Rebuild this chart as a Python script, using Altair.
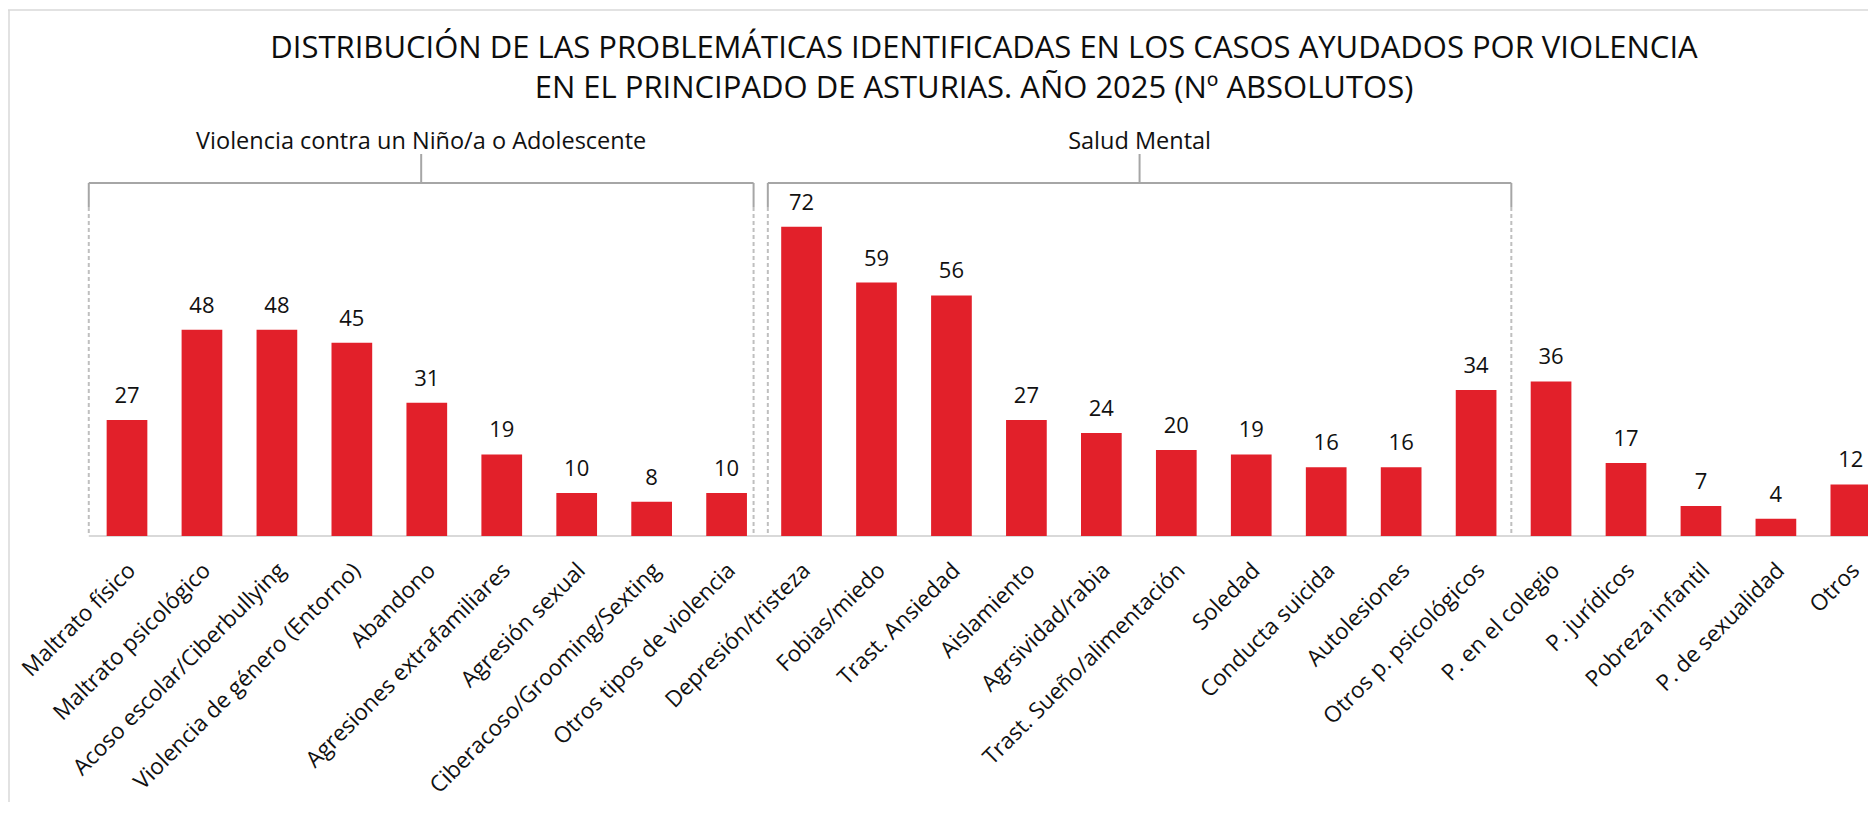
import altair as alt
import pandas as pd

# ---------------- data ----------------
categories = [
    "Maltrato físico", "Maltrato psicológico", "Acoso escolar/Ciberbullying",
    "Violencia de género (Entorno)", "Abandono", "Agresiones extrafamiliares",
    "Agresión sexual", "Ciberacoso/Grooming/Sexting", "Otros tipos de violencia",
    "Depresión/tristeza", "Fobias/miedo", "Trast. Ansiedad", "Aislamiento",
    "Agrsividad/rabia", "Trast. Sueño/alimentación", "Soledad", "Conducta suicida",
    "Autolesiones", "Otros p. psicológicos", "P. en el colegio", "P. jurídicos",
    "Pobreza infantil", "P. de sexualidad", "Otros",
]
values = [27, 48, 48, 45, 31, 19, 10, 8, 10, 72, 59, 56, 27, 24, 20, 19, 16, 16, 34,
          36, 17, 7, 4, 12]

group_names = ["Violencia contra un Niño/a o Adolescente", "Salud Mental"]
group_first = [0, 9]
group_last = [8, 18]

title_lines = [
    "DISTRIBUCIÓN DE LAS PROBLEMÁTICAS IDENTIFICADAS EN LOS CASOS AYUDADOS POR VIOLENCIA",
    "EN EL PRINCIPADO DE ASTURIAS. AÑO 2025 (Nº ABSOLUTOS)",
]

# ---------------- layout (pixel geometry of the page) ----------------
W, H = 1860, 794
PX0, PITCH = 127.0, 74.95     # page x of first bar centre, bar pitch
BASE, PXU = 536.0, 4.295      # page y of baseline, pixels per unit


def xi(px):
    return (px - PX0) / PITCH


def yv(py):
    return (BASE - py) / PXU


xs = alt.Scale(domain=[xi(8), xi(8 + W)], nice=False, zero=False)
ys = alt.Scale(domain=[yv(8 + H), yv(8)], nice=False, zero=False)

HALF_BAR = 20.35 / PITCH
RED = "#E2202A"
LABEL_FONT = "Open Sans"
NUM_FONT = "Open Sans"

df = pd.DataFrame({"idx": list(range(len(categories))), "cat": categories, "val": values})

base = alt.Chart(df)

bars = base.transform_calculate(
    x0=f"datum.idx - {HALF_BAR}", x1=f"datum.idx + {HALF_BAR}", zero="0"
).mark_bar(color=RED, clip=True).encode(
    x=alt.X("x0:Q", scale=xs, axis=None),
    x2="x1:Q",
    y=alt.Y("val:Q", scale=ys, axis=None),
    y2="zero:Q",
)

value_labels = base.mark_text(
    font=NUM_FONT, fontSize=22, color="#111111", baseline="alphabetic", dy=-17
).encode(
    x=alt.X("idx:Q", scale=xs, axis=None),
    y=alt.Y("val:Q", scale=ys, axis=None),
    text="val:Q",
)

cat_labels = base.transform_calculate(
    lx=f"datum.idx + {5 / PITCH}", ly=f"{yv(567)}"
).mark_text(
    font=LABEL_FONT, fontSize=22.5, color="#111111", angle=315, align="right",
    baseline="middle",
).encode(
    x=alt.X("lx:Q", scale=xs, axis=None),
    y=alt.Y("ly:Q", scale=ys, axis=None),
    text="cat:N",
)

# ---------------- brackets ----------------
left_off = [0.51, 0.45]
right_off = [0.36, 0.47]
Y_TOP, Y_SOLID, Y_TICK, Y_GLABEL = yv(183), yv(207), yv(154), yv(142)

solid_rows, dash_rows, glabel_rows = [], [], []
for g, name in enumerate(group_names):
    l = group_first[g] - left_off[g]
    r = group_last[g] + right_off[g]
    c = (l + r) / 2
    solid_rows += [
        {"x": l, "x2": r, "y": Y_TOP, "y2": Y_TOP},
        {"x": l, "x2": l, "y": Y_TOP, "y2": Y_SOLID},
        {"x": r, "x2": r, "y": Y_TOP, "y2": Y_SOLID},
        {"x": c, "x2": c, "y": Y_TOP, "y2": Y_TICK},
    ]
    dash_rows += [
        {"x": l, "x2": l, "y": Y_SOLID, "y2": 0.0},
        {"x": r, "x2": r, "y": Y_SOLID, "y2": 0.0},
    ]
    glabel_rows.append({"x": c, "y": Y_GLABEL, "t": name})

solid = alt.Chart(pd.DataFrame(solid_rows)).mark_rule(color="#A6A6A6", strokeWidth=2).encode(
    x=alt.X("x:Q", scale=xs, axis=None), x2="x2:Q",
    y=alt.Y("y:Q", scale=ys, axis=None), y2="y2:Q",
)
dashed = alt.Chart(pd.DataFrame(dash_rows)).mark_rule(
    color="#BFBFBF", strokeWidth=2, strokeDash=[4, 3]
).encode(
    x=alt.X("x:Q", scale=xs, axis=None), x2="x2:Q",
    y=alt.Y("y:Q", scale=ys, axis=None), y2="y2:Q",
)
glabels = alt.Chart(pd.DataFrame(glabel_rows)).mark_text(
    font=LABEL_FONT, fontSize=23.5, color="#111111", baseline="middle", align="center"
).encode(
    x=alt.X("x:Q", scale=xs, axis=None),
    y=alt.Y("y:Q", scale=ys, axis=None),
    text="t:N",
)

# baseline and frame
line_rows = [
    {"x": group_first[0] - left_off[0], "x2": xi(8 + W), "y": 0.0, "y2": 0.0},
]
baseline = alt.Chart(pd.DataFrame(line_rows)).mark_rule(color="#D9D9D9", strokeWidth=2).encode(
    x=alt.X("x:Q", scale=xs, axis=None), x2="x2:Q",
    y=alt.Y("y:Q", scale=ys, axis=None), y2="y2:Q",
)
border_rows = [
    {"x": xi(8), "x2": xi(8 + W), "y": yv(10), "y2": yv(10)},
    {"x": xi(9), "x2": xi(9), "y": yv(10), "y2": yv(8 + H)},
]
border = alt.Chart(pd.DataFrame(border_rows)).mark_rule(color="#D9D9D9", strokeWidth=1.5).encode(
    x=alt.X("x:Q", scale=xs, axis=None), x2="x2:Q",
    y=alt.Y("y:Q", scale=ys, axis=None), y2="y2:Q",
)

# title
title_df = pd.DataFrame({
    "t": title_lines,
    "x": [xi(984), xi(974)],
    "y": [yv(58), yv(98)],
})
title = alt.Chart(title_df).mark_text(
    font=NUM_FONT, fontSize=31, color="#0D0D0D", baseline="alphabetic", align="center"
).encode(
    x=alt.X("x:Q", scale=xs, axis=None),
    y=alt.Y("y:Q", scale=ys, axis=None),
    text="t:N",
)

chart = alt.layer(
    border, baseline, dashed, solid, bars, value_labels, cat_labels, glabels, title
).properties(
    width=W, height=H,
    autosize=alt.AutoSizeParams(type="none"),
).configure(padding=0).configure_view(stroke=None)

chart.save("out.html", embed_options={"renderer": "svg", "actions": False})
